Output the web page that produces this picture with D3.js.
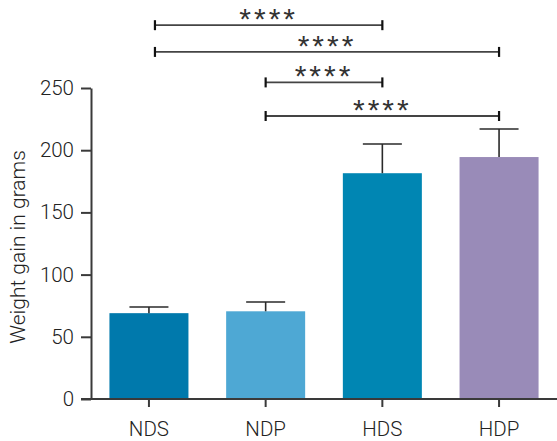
<!DOCTYPE html>
<html><head><meta charset="utf-8">
<script src="https://cdn.jsdelivr.net/npm/d3@7"></script>
<style>body{margin:0;background:#fff}svg{display:block}</style>
</head><body>
<svg id="c" width="557" height="441"></svg>
<script>
const categories = ["NDS","NDP","HDS","HDP"];
const means = [69, 70.5, 181.5, 194.5];
const errors = [5, 7.5, 23.5, 22.5];
const colors = ["#0079ac","#4ea8d4","#0086b3","#998bb8"];
const yTicks = [0,50,100,150,200,250];
const comparisons = [
  {from:"NDS", to:"HDS", level:300.5, label:"****"},
  {from:"NDS", to:"HDP", level:279, label:"****"},
  {from:"NDP", to:"HDS", level:254.5, label:"****"},
  {from:"NDP", to:"HDP", level:227.5, label:"****"}
];

const svg = d3.select("#c");
const font = "Roboto, 'Liberation Sans', Arial, sans-serif";
const ink = "#3a3a3a";
const x = d3.scaleBand().domain(categories).range([91,557]).paddingInner(0.323).paddingOuter(0.158);
const y = d3.scaleLinear().domain([0,250]).range([399,88]);
const cx = c => x(c) + x.bandwidth()/2;

// bars
svg.selectAll("rect.bar").data(categories).join("rect")
  .attr("x", d=>x(d)).attr("width", x.bandwidth())
  .attr("y", (d,i)=>y(means[i])).attr("height",(d,i)=>y(0)-y(means[i]))
  .attr("fill",(d,i)=>colors[i]);

// error bars
const eb = svg.append("g").attr("stroke", "#2a2a2a").attr("stroke-width",1.6);
categories.forEach((c,i)=>{
  eb.append("line").attr("x1",cx(c)).attr("x2",cx(c)).attr("y1",y(means[i])).attr("y2",y(means[i]+errors[i]));
  eb.append("line").attr("x1",cx(c)-19.5).attr("x2",cx(c)+19.5).attr("y1",y(means[i]+errors[i])).attr("y2",y(means[i]+errors[i]));
});

// y axis
const ya = svg.append("g").attr("transform","translate(91,0)")
  .call(d3.axisLeft(y).tickValues(yTicks).tickSize(10).tickPadding(7).tickSizeOuter(0));
ya.select(".domain").attr("stroke",ink).attr("stroke-width",2);
ya.selectAll(".tick line").attr("stroke",ink).attr("stroke-width",2);
ya.selectAll("text").attr("font-family",font).attr("font-weight",300).attr("font-size",20.5).attr("fill","#222");

// x axis
const xa = svg.append("g").attr("transform","translate(0,399)")
  .call(d3.axisBottom(x).tickSize(8).tickPadding(14).tickSizeOuter(0));
xa.select(".domain").attr("stroke",ink).attr("stroke-width",2).attr("d","M81,0H557");
xa.selectAll(".tick line").attr("stroke",ink).attr("stroke-width",2);
xa.selectAll("text").attr("font-family",font).attr("font-weight",300).attr("font-size",20.5).attr("fill","#222");

// y title
svg.append("text").attr("transform","translate(25,247) rotate(-90)")
  .attr("text-anchor","middle").attr("font-family",font).attr("font-weight",300).attr("font-size",21).attr("fill","#222")
  .text("Weight gain in grams");

// significance brackets
const bg = svg.append("g");
comparisons.forEach(cmp=>{
  const x1 = cx(cmp.from) + (cmp.from==="NDS" ? 6 : 0);
  const x2 = cx(cmp.to);
  const yy = y(cmp.level);
  bg.append("line").attr("x1",x1).attr("x2",x2).attr("y1",yy).attr("y2",yy).attr("stroke","#444").attr("stroke-width",1.8);
  [x1,x2].forEach(xx=>bg.append("line").attr("x1",xx).attr("x2",xx).attr("y1",yy-5).attr("y2",yy+5).attr("stroke","#111").attr("stroke-width",2.2));
  bg.append("text").attr("x",(x1+x2)/2).attr("y",yy+4).attr("text-anchor","middle")
    .attr("font-family","'Liberation Sans', Arial, sans-serif").attr("font-size",30).attr("letter-spacing",3).attr("fill","#333").text(cmp.label);
});
</script>
</body></html>
